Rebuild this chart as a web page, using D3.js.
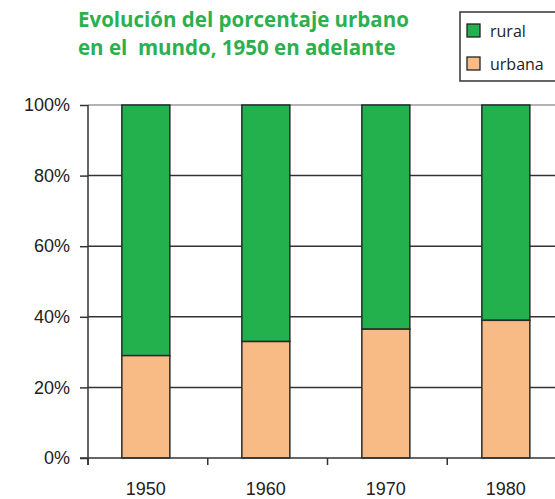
<!DOCTYPE html>
<html>
<head>
<meta charset="utf-8">
<script src="https://cdn.jsdelivr.net/npm/d3@7"></script>
<style>
  body { margin: 0; background: #fff; }
  svg text { font-family: "Liberation Sans", Arial, sans-serif; }
</style>
</head>
<body>
<div id="chart"></div>
<script>
var years = ["1950", "1960", "1970", "1980"];
var urbana = [29, 33, 36.5, 39];
var rural = [71, 67, 63.5, 61];
var yTicks = [0, 20, 40, 60, 80, 100];

var W = 555, H = 499;
var margin = {top: 105, left: 88, bottom: 41};
var height = H - margin.top - margin.bottom;

var x = d3.scaleBand()
    .domain(years)
    .range([0, 480])
    .paddingInner(0.6)
    .paddingOuter(0.3)
    .align(0.47);
var y = d3.scaleLinear().domain([0, 100]).range([height, 0]);

var svg = d3.select("#chart").append("svg")
    .attr("width", W)
    .attr("height", H);

var titleLines = ["Evolución del porcentaje urbano", "en el  mundo, 1950 en adelante"];
svg.selectAll(".title")
    .data(titleLines)
  .enter().append("text")
    .attr("x", 78)
    .attr("y", function(d, i) { return 27 + i * 28; })
    .attr("xml:space", "preserve")
    .style("white-space", "pre")
    .style("font-family", "'Open Sans', sans-serif")
    .style("font-weight", "bold")
    .style("font-size", "20.5px")
    .style("fill", "#2cb04f")
    .text(function(d) { return d; });

var g = svg.append("g")
    .attr("transform", "translate(" + margin.left + "," + margin.top + ")");

// gridlines
g.selectAll(".grid")
    .data(yTicks.filter(function(d) { return d > 0; }))
  .enter().append("line")
    .attr("x1", 0).attr("x2", W)
    .attr("y1", function(d) { return y(d); })
    .attr("y2", function(d) { return y(d); })
    .style("stroke", function(d) { return d == 100 ? "#999" : "#333"; })
    .style("stroke-width", 1.5);

var stack = years.map(function(yr, i) {
  return {year: yr, urbana: urbana[i], rural: rural[i]};
});

g.selectAll(".rural")
    .data(stack)
  .enter().append("rect")
    .attr("x", function(d) { return x(d.year); })
    .attr("width", x.bandwidth())
    .attr("y", function(d) { return y(d.urbana + d.rural); })
    .attr("height", function(d) { return y(d.urbana) - y(d.urbana + d.rural); })
    .style("fill", "#23b14d")
    .style("stroke", "#2a2a2a")
    .style("stroke-width", 1.5);

g.selectAll(".urbana")
    .data(stack)
  .enter().append("rect")
    .attr("x", function(d) { return x(d.year); })
    .attr("width", x.bandwidth())
    .attr("y", function(d) { return y(d.urbana); })
    .attr("height", function(d) { return height - y(d.urbana); })
    .style("fill", "#f9bb86")
    .style("stroke", "#2a2a2a")
    .style("stroke-width", 1.5);

// y axis
var yAxis = g.append("g")
    .call(d3.axisLeft(y).tickValues(yTicks).tickSize(8).tickPadding(10)
      .tickFormat(function(d) { return d + "%"; }));
yAxis.select(".domain").remove();
yAxis.selectAll("line").style("stroke", "#333").style("stroke-width", 1.5);
yAxis.selectAll("text").style("font-size", "18px").style("fill", "#222")
    .style("font-family", "'Liberation Sans', Arial, sans-serif");

g.append("line")
    .attr("x1", 0).attr("x2", 0)
    .attr("y1", 0).attr("y2", height + 7)
    .style("stroke", "#333").style("stroke-width", 1.5);

// x axis: ticks between categories
var xb = d3.scaleLinear().domain([0, 4]).range([0, 479]);
g.append("line")
    .attr("x1", -8).attr("x2", W)
    .attr("y1", height).attr("y2", height)
    .style("stroke", "#333").style("stroke-width", 1.5);
g.selectAll(".xt")
    .data([0, 1, 2, 3])
  .enter().append("line")
    .attr("x1", function(d) { return xb(d); })
    .attr("x2", function(d) { return xb(d); })
    .attr("y1", height).attr("y2", height + 7)
    .style("stroke", "#333").style("stroke-width", 1.5);

g.selectAll(".xl")
    .data(years)
  .enter().append("text")
    .attr("x", function(d) { return x(d) + x.bandwidth() / 2; })
    .attr("y", height + 37)
    .attr("text-anchor", "middle")
    .style("font-size", "18px")
    .style("fill", "#222")
    .text(function(d) { return d; });

// legend
var lg = svg.append("g");
lg.append("rect")
    .attr("x", 460).attr("y", 12).attr("width", 110).attr("height", 69)
    .style("fill", "#fff").style("stroke", "#333").style("stroke-width", 1.5);
var items = [{name: "rural", color: "#23b14d"}, {name: "urbana", color: "#f9bb86"}];
items.forEach(function(it, i) {
  lg.append("rect")
      .attr("x", 467).attr("y", 24 + i * 33).attr("width", 13).attr("height", 13)
      .style("fill", it.color).style("stroke", "#222").style("stroke-width", 1.3);
  lg.append("text")
      .attr("x", 490).attr("y", 37 + i * 33)
      .style("font-family", "'Open Sans', sans-serif")
      .style("font-size", "16px")
      .style("fill", "#222")
      .text(it.name);
});
</script>
</body>
</html>
